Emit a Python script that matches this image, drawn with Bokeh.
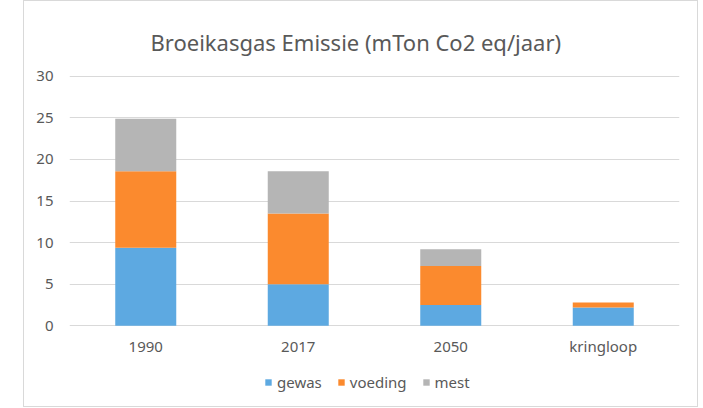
from bokeh.plotting import figure
from bokeh.models import Legend, LegendItem, FactorRange, Range1d, FixedTicker
from bokeh.embed import file_html
from bokeh.resources import INLINE

categories = ["1990", "2017", "2050", "kringloop"]
gewas = [9.4, 5.0, 2.5, 2.2]
voeding = [9.2, 8.5, 4.7, 0.6]
mest = [6.3, 5.1, 2.0, 0.0]
series = ["gewas", "voeding", "mest"]
colors = ["#5DA9E1", "#FB8A2E", "#B5B5B5"]
y_ticks = [0, 5, 10, 15, 20, 25, 30]
title_text = "Broeikasgas Emissie (mTon Co2 eq/jaar)"

FONT = "Noto Sans"
TXT = "#595959"

p = figure(x_range=FactorRange(*categories, range_padding=0), y_range=Range1d(-9.94, 30.1),
           width=675, height=407, output_backend="svg", toolbar_location=None,
           min_border_left=45, min_border_right=20, min_border_top=74, min_border_bottom=0,
           title=title_text)
p.margin = (0, 0, 0, 23)
p.styles = {"border": "1px solid #D9D9D9", "box-sizing": "border-box"}
p.outline_line_color = None
p.title.align = "left"
p.title.offset = 81
p.title.text_font = FONT
p.title.text_font_size = "22px"
p.title.text_font_style = "normal"
p.title.text_color = TXT
p.title.standoff = 38

data = {"cat": categories, "gewas": gewas, "voeding": voeding, "mest": mest}
rs = p.vbar_stack(series, x="cat", width=0.4, color=colors, line_color=None, source=data)

p.yaxis.ticker = FixedTicker(ticks=y_ticks)
p.xaxis.fixed_location = 0
for ax in (p.xaxis[0], p.yaxis[0]):
    ax.axis_line_color = None
    ax.major_tick_line_color = None
    ax.minor_tick_line_color = None
    ax.major_label_text_color = TXT
    ax.major_label_text_font = FONT
    ax.major_label_text_font_size = "15px"
p.yaxis.major_label_standoff = 10
p.xaxis.major_label_standoff = 4
p.xgrid.grid_line_color = None
p.ygrid.grid_line_color = "#D9D9D9"
p.ygrid.grid_line_width = 1

legend = Legend(items=[LegendItem(label=s, renderers=[r]) for s, r in zip(series, rs)],
                orientation="horizontal", location=(195, 16),
                label_text_font=FONT, label_text_font_size="15px", label_text_color=TXT,
                glyph_width=8, glyph_height=8, label_standoff=5, spacing=15,
                border_line_color=None, background_fill_alpha=0, padding=0, margin=0)
p.add_layout(legend, "center")

open("out.html", "w").write(file_html(p, INLINE))
